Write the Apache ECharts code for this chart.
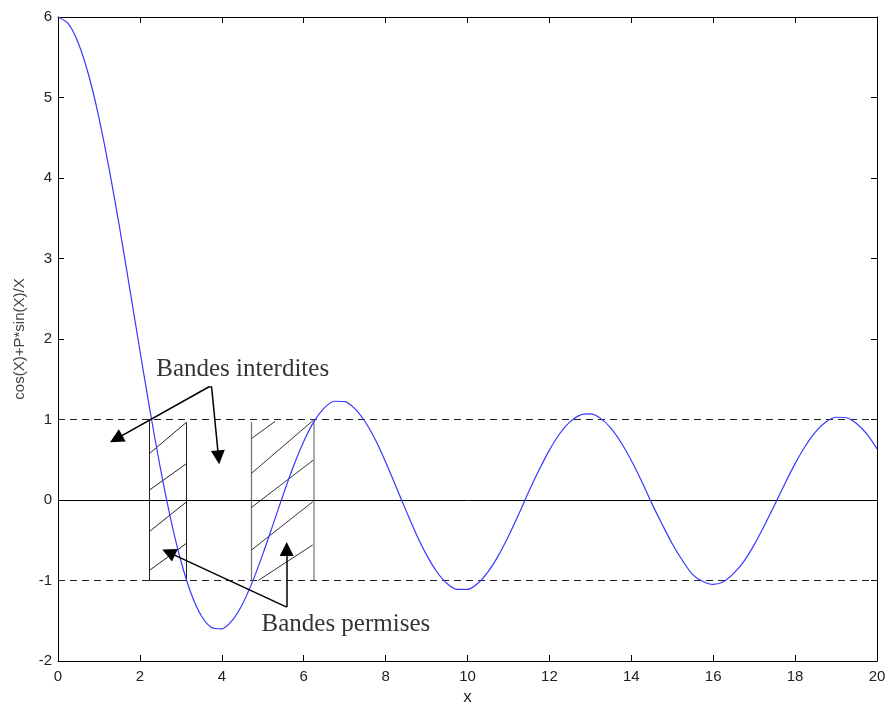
<!DOCTYPE html>
<html>
<head>
<meta charset="utf-8">
<script src="https://cdn.jsdelivr.net/npm/echarts@6/dist/echarts.min.js"></script>
<style>
  html, body { margin: 0; padding: 0; background: #fff; }
  #chart { width: 888px; height: 704px; }
</style>
</head>
<body>
<div id="chart"></div>
<script>
const xs = [0, 0.25, 0.5, 0.75, 1, 1.25, 1.5, 1.75, 2, 2.25, 2.5, 2.75, 3, 3.25, 3.5, 3.75,
  4, 4.25, 4.5, 4.75, 5, 5.25, 5.5, 5.75, 6, 6.25, 6.5, 6.75, 7, 7.25, 7.5, 7.75,
  8, 8.25, 8.5, 8.75, 9, 9.25, 9.5, 9.75, 10, 10.25, 10.5, 10.75, 11, 11.25, 11.5, 11.75,
  12, 12.25, 12.5, 12.75, 13, 13.25, 13.5, 13.75, 14, 14.25, 14.5, 14.75, 15, 15.25, 15.5, 15.75,
  16, 16.25, 16.5, 16.75, 17, 17.25, 17.5, 17.75, 18, 18.25, 18.5, 18.75, 19, 19.25, 19.5, 19.75, 20];
const ys = [6.000, 5.917, 5.672, 5.276, 4.748, 4.111, 3.396, 2.633, 1.857, 1.101, 0.396, -0.230, -0.755, -1.161, -1.438, -1.583,
  -1.600, -1.499, -1.297, -1.014, -0.675, -0.306, 0.067, 0.419, 0.727, 0.973, 1.142, 1.227, 1.223, 1.135, 0.972, 0.748,
  0.473, 0.170, -0.132, -0.424, -0.682, -0.891, -1.037, -1.111, -1.111, -1.037, -0.894, -0.694, -0.450, -0.178, 0.108, 0.375,
  0.620, 0.823, 0.971, 1.055, 1.069, 1.014, 0.893, 0.714, 0.491, 0.236, -0.042, -0.298, -0.543, -0.752, -0.928, -1.012,
  -1.048, -1.015, -0.912, -0.762, -0.558, -0.318, -0.061, 0.203, 0.452, 0.671, 0.847, 0.969, 1.028, 1.022, 0.951, 0.820, 0.636];

const xTicks = [0, 2, 4, 6, 8, 10, 12, 14, 16, 18, 20];
const yTicks = [-2, -1, 0, 1, 2, 3, 4, 5, 6];

// horizontal reference levels
const dashedLevels = [1, -1];
const solidLevels = [0];

// hatched bands (segments in data units)
const band1Edges = [
  [[2.23, 1], [2.23, -1]],
  [[3.14, 0.96], [3.14, -1]],
  [[2.23, -1], [3.14, -1]]
];
const band1Hatch = [
  [[2.23, 0.576], [3.14, 0.967]],
  [[2.23, 0.122], [3.14, 0.453]],
  [[2.23, -0.393], [3.14, -0.022]],
  [[2.23, -0.876], [3.14, -0.537]]
];
const band2LeftEdge = [[[4.72, 0.97], [4.72, -1]]];
const band2RightEdge = [[[6.25, 1], [6.25, -1]]];
const band2Hatch = [
  [[4.72, 0.762], [5.30, 0.976]],
  [[4.72, 0.329], [6.23, 0.988]],
  [[4.72, -0.094], [6.23, 0.494]],
  [[4.73, -0.620], [6.22, -0.022]],
  [[4.89, -1.0], [6.22, -0.558]]
];

// callouts
const arrowStems = [
  [[3.70, 1.41], [3.75, 1.41]]
];
const arrows = [
  [[3.70, 1.41], [1.42, 0.76]],
  [[3.75, 1.41], [3.92, 0.53]],
  [[5.585, -1.33], [2.70, -0.65]],
  [[5.585, -1.33], [5.585, -0.61]]
];
const notes = [
  { name: 'Bandes interdites', value: [4.51, 1.62] },
  { name: 'Bandes permises', value: [7.03, -1.54] }
];

const chart = echarts.init(document.getElementById('chart'));

const sans = 'Liberation Sans, Arial, sans-serif';
const axisFont = { color: '#222', fontSize: 15, fontFamily: sans };
const lineBlack = { show: true, onZero: false, lineStyle: { color: '#000', width: 1 } };
const tickIn = { show: true, inside: true, length: 6, lineStyle: { color: '#000' } };

function segs(list) {
  return list.map(function (s) { return { coords: s }; });
}

const option = {
  animation: false,
  backgroundColor: '#fff',
  grid: { left: 58, top: 17, right: 11, bottom: 43, containLabel: false, outerBoundsMode: 'none' },
  xAxis: [
    {
      type: 'value', min: xTicks[0], max: xTicks[xTicks.length - 1], interval: 2,
      position: 'bottom',
      name: 'x', nameLocation: 'middle', nameGap: 27,
      nameTextStyle: { color: '#222', fontSize: 17, fontFamily: sans },
      axisLine: lineBlack, axisTick: tickIn,
      axisLabel: Object.assign({ margin: 8 }, axisFont),
      splitLine: { show: false }
    },
    {
      type: 'value', min: xTicks[0], max: xTicks[xTicks.length - 1], interval: 2,
      position: 'top',
      axisLine: lineBlack, axisTick: tickIn,
      axisLabel: { show: false }, splitLine: { show: false }
    }
  ],
  yAxis: [
    {
      type: 'value', min: yTicks[0], max: yTicks[yTicks.length - 1], interval: 1,
      position: 'left',
      name: 'cos(X)+P*sin(X)/X', nameLocation: 'middle', nameGap: 31,
      nameTextStyle: { color: '#444', fontSize: 15, fontFamily: sans },
      axisLine: lineBlack, axisTick: tickIn,
      axisLabel: Object.assign({ margin: 6 }, axisFont),
      splitLine: { show: false }
    },
    {
      type: 'value', min: yTicks[0], max: yTicks[yTicks.length - 1], interval: 1,
      position: 'right',
      axisLine: lineBlack, axisTick: tickIn,
      axisLabel: { show: false }, splitLine: { show: false }
    }
  ],
  series: [
    {
      type: 'line',
      data: xs.map(function (x, i) { return [x, ys[i]]; }),
      symbol: 'none',
      smooth: 0.3,
      lineStyle: { color: '#3838ff', width: 1.2 },
      z: 5,
      markLine: {
        silent: true, symbol: 'none', label: { show: false },
        data: dashedLevels.map(function (v) {
          return { yAxis: v, lineStyle: { color: '#222', width: 1, type: [7, 5] } };
        }).concat(solidLevels.map(function (v) {
          return { yAxis: v, lineStyle: { color: '#000', width: 1, type: 'solid' } };
        }))
      }
    },
    {
      type: 'lines', coordinateSystem: 'cartesian2d', silent: true,
      data: segs(band1Edges.concat(band1Hatch)),
      lineStyle: { color: '#222', width: 1, opacity: 1, curveness: 0 },
      symbol: 'none'
    },
    {
      type: 'lines', coordinateSystem: 'cartesian2d', silent: true,
      data: segs(band2LeftEdge),
      lineStyle: { color: '#777', width: 1.3, opacity: 1 },
      symbol: 'none'
    },
    {
      type: 'lines', coordinateSystem: 'cartesian2d', silent: true,
      data: segs(band2RightEdge),
      lineStyle: { color: '#aaa', width: 2, opacity: 1 },
      symbol: 'none'
    },
    {
      type: 'lines', coordinateSystem: 'cartesian2d', silent: true,
      data: segs(band2Hatch),
      lineStyle: { color: '#333', width: 1, opacity: 1 },
      symbol: 'none'
    },
    {
      type: 'lines', coordinateSystem: 'cartesian2d', silent: true,
      data: segs(arrowStems),
      lineStyle: { color: '#000', width: 1.5, opacity: 1 },
      symbol: 'none', z: 6
    },
    {
      type: 'lines', coordinateSystem: 'cartesian2d', silent: true,
      data: segs(arrows),
      lineStyle: { color: '#000', width: 1.5, opacity: 1 },
      symbol: ['none', 'triangle'], symbolSize: 14, z: 6
    },
    {
      type: 'scatter', silent: true,
      data: notes,
      symbolSize: 1,
      itemStyle: { color: 'rgba(0,0,0,0)' },
      label: {
        show: true, position: 'inside', formatter: '{b}',
        color: '#000', fontSize: 25, fontFamily: 'Liberation Serif, Times New Roman, serif'
      },
      z: 7
    }
  ]
};

chart.setOption(option);
</script>
</body>
</html>
